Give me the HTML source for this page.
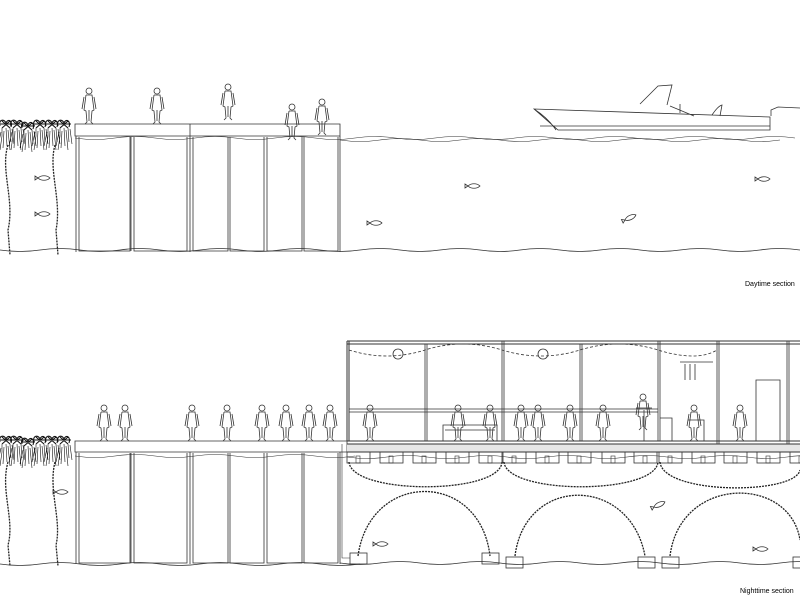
<!DOCTYPE html>
<html><head><meta charset="utf-8"><style>
html,body{margin:0;padding:0;background:#fff;}
svg{display:block}
text{font-family:"Liberation Sans",sans-serif;font-size:7px;fill:#000}
</style></head><body>
<svg width="800" height="600" viewBox="0 0 800 600" xmlns="http://www.w3.org/2000/svg" fill="none" stroke="#333" stroke-width="0.8">
<defs>
<g id="p"><circle cx="0" cy="-33" r="3"/><path d="M-3,-29 L3,-29 L5,-14 L3,-13 L2,-2 L4,0 M-3,-29 L-5,-14 L-3,-13 L-2,-2 L-4,0 M0,-14 L0,-3 M-5,-27 L-7,-15 M5,-27 L7,-15"/></g>
<g id="fish"><path d="M0,0 C3,-3 9,-3 12,0 C9,3 3,3 0,0 Z M0,0 L-3,-2 L-3,2 Z"/></g>
<g id="mang" stroke="#111"><path d="M-2,-2 C-4,-8 2,-10 4,-5 C6,-10 11,-7 9,-1 M-3,-4 L11,-4 M0,-7 L8,0 M8,-7 L0,0" stroke-width="1.1"/><path d="M0,0 L0,8 L-2,22 M4,0 L5,18 M8,0 L9,14 M-1,4 L-4,18 M6,2 L8,22 M2,3 L1,20 M10,1 L12,16" stroke-width="0.6"/></g>
<g id="pon"><rect x="0" y="0" width="23" height="11"/><rect x="9" y="4" width="4" height="7" stroke-width="0.6"/></g>
</defs>

<!-- ===== DAYTIME ===== -->
<path d="M75,124 H340 V136 H75 Z"/>
<line x1="190" y1="124" x2="190" y2="136"/>
<path d="M76,136 V252 M79,137 V251 H130 V137 M131,137 V251 M134,137 V251 H187 V137 M190,136 V252 M193,137 V251 H228 V137 M230,137 V251 H264 V137 M267,137 V251 H302 V137 M304,137 V251 H338 V137 M340,136 V252"/>
<path d="M75,138 q20,3 40,0 t40,0 t40,0 t40,0 t40,0 t40,0 t40,0 t40,0 t40,0 t40,0 t40,0 t40,0 t40,0 t40,0 t40,0 t40,0 t40,0 t40,0" stroke-width="0.6"/>
<path d="M0,250 q20,3 40,0 t40,0 t40,0 t40,0 t40,0 t40,0 t40,0 t40,0 t40,0 t40,0 t40,0 t40,0 t40,0 t40,0 t40,0 t40,0 t40,0 t40,0 t40,0 t40,0"/>
<use href="#mang" x="2" y="128"/><use href="#mang" x="13" y="128"/><use href="#mang" x="24" y="130"/><use href="#mang" x="36" y="128"/><use href="#mang" x="48" y="128"/><use href="#mang" x="60" y="128"/>
<path d="M8,145 C0,170 15,200 8,230 L10,255 M55,145 C48,170 62,200 56,230 L58,255" stroke-dasharray="2,1" stroke-width="1.3" stroke="#222"/>
<use href="#fish" x="38" y="178"/><use href="#fish" x="38" y="214"/><use href="#fish" x="370" y="223"/><use href="#fish" x="468" y="186"/><use href="#fish" x="625" y="220" transform="rotate(-25 625 220)"/><use href="#fish" x="758" y="179"/>
<use href="#p" x="89" y="124"/><use href="#p" x="157" y="124"/><use href="#p" x="228" y="120"/><use href="#p" x="292" y="140"/><use href="#p" x="322" y="135"/>
<path d="M534,109 L770,117 L770,130 L558,130 Z M540,126 L770,126 M556,130 Q548,118 534,109 M640,104 L658,86 L672,85 L667,105 M670,106 L694,116 M680,104 V113 M712,115 Q718,106 722,105 L720,116 M771,116 V110 L778,107 L800,108"/>
<path d="M340,140 q20,3 40,0 t40,0 t40,0 t40,0 t40,0 t40,0 t40,0 t40,0 t40,0 t40,0 t40,0" stroke-width="0.6"/>
<text x="745" y="286" stroke="none">Daytime section</text>

<!-- ===== NIGHTTIME ===== -->
<path d="M75,441 H347 V452 H75 Z"/>
<path d="M76,452 V564 M79,453 V563 H130 V453 M131,453 V563 M134,453 V563 H187 V453 M190,452 V564 M193,453 V563 H228 V453 M230,453 V563 H264 V453 M267,453 V563 H302 V453 M304,453 V563 H338 V453 M340,452 V564"/>
<path d="M75,456 q20,3 40,0 t40,0 t40,0 t40,0 t40,0 t40,0 t40,0" stroke-width="0.6"/>
<use href="#mang" x="2" y="444"/><use href="#mang" x="13" y="444"/><use href="#mang" x="24" y="446"/><use href="#mang" x="36" y="444"/><use href="#mang" x="48" y="444"/><use href="#mang" x="60" y="444"/>
<path d="M8,462 C0,490 15,520 8,545 L10,566 M55,462 C48,490 62,520 56,545 L58,566" stroke-dasharray="2,1" stroke-width="1.3" stroke="#222"/>
<use href="#fish" x="56" y="492"/><use href="#fish" x="376" y="544"/><use href="#fish" x="654" y="507" transform="rotate(-25 654 507)"/><use href="#fish" x="756" y="549"/>
<path d="M347,341 H800 M347,344 H800 M347,341 V441 M349,341 V441" stroke-width="1"/>
<path d="M425,344 V441 M427,344 V441 M502,341 V441 M504,341 V441 M580,344 V441 M582,344 V441 M658,341 V441 M660,341 V441 M717,341 V452 M719,341 V452 M787,341 V452 M789,341 V452"/>
<path d="M349,409 H658 M349,412 H658"/>
<rect x="347" y="444" width="453" height="8" fill="#e6e6e6" stroke="none"/>
<path d="M347,441 H800 M347,444 H800 M347,452 H800" stroke-width="1"/>
<path d="M349,350 q38,12 76,0 t77,0 t78,0 t78,0 t59,0" stroke-dasharray="3,2"/>
<circle cx="398" cy="354" r="5"/><circle cx="543" cy="354" r="5"/>
<use href="#pon" x="347" y="452"/><use href="#pon" x="380" y="452"/><use href="#pon" x="413" y="452"/><use href="#pon" x="446" y="452"/><use href="#pon" x="479" y="452"/><use href="#pon" x="503" y="452"/><use href="#pon" x="536" y="452"/><use href="#pon" x="568" y="452"/><use href="#pon" x="602" y="452"/><use href="#pon" x="634" y="452"/><use href="#pon" x="659" y="452"/><use href="#pon" x="692" y="452"/><use href="#pon" x="724" y="452"/><use href="#pon" x="757" y="452"/><use href="#pon" x="790" y="452"/>
<path d="M347,457 q20,3 40,0 t40,0 t40,0 t40,0 t40,0 t40,0 t40,0 t40,0 t40,0 t40,0 t40,0 t40,0" stroke-width="0.6"/>
<path d="M349,462 C352,495 500,495 502,462 M504,462 C507,495 655,495 658,462 M660,462 C663,495 795,495 800,470" stroke-dasharray="2,1" stroke-width="1.3" stroke="#222"/>
<path d="M358,556 C370,470 480,470 490,556 M515,556 C525,475 630,475 645,556 M670,556 C680,475 790,475 800,540" stroke-dasharray="2,1" stroke-width="1.3" stroke="#222"/>
<path d="M342,444 V558 H350" stroke-width="0.6"/>
<rect x="350" y="553" width="17" height="11"/><rect x="482" y="553" width="17" height="11"/><rect x="506" y="557" width="17" height="11"/><rect x="638" y="557" width="17" height="11"/><rect x="662" y="557" width="17" height="11"/><rect x="793" y="557" width="17" height="11"/>
<path d="M340,563 q20,3 40,0 t40,0 t40,0 t40,0 t40,0 t40,0 t40,0 t40,0 t40,0 t40,0 t40,0 t40,0" stroke-width="0.8"/>
<path d="M0,564 q20,3 40,0 t40,0 t40,0 t40,0 t40,0 t40,0 t40,0 t40,0 t40,0" stroke-width="0.8"/>
<path d="M443,441 V425 H497 V441 M445,430 H495 M756,441 V380 H780 V441 M680,362 H713 M685,364 V380 M690,364 V380 M695,364 V380 M644,441 V410 M636,408 H652 M660,418 H672 V441 M688,420 H704 V441"/>
<use href="#p" x="104" y="441"/><use href="#p" x="125" y="441"/><use href="#p" x="192" y="441"/><use href="#p" x="227" y="441"/><use href="#p" x="262" y="441"/><use href="#p" x="286" y="441"/><use href="#p" x="309" y="441"/><use href="#p" x="330" y="441"/>
<use href="#p" x="370" y="441"/><use href="#p" x="458" y="441"/><use href="#p" x="490" y="441"/><use href="#p" x="521" y="441"/><use href="#p" x="538" y="441"/><use href="#p" x="570" y="441"/><use href="#p" x="603" y="441"/><use href="#p" x="643" y="430"/><use href="#p" x="694" y="441"/><use href="#p" x="740" y="441"/>
<text x="740" y="593" stroke="none">Nighttime section</text>
</svg>
</body></html>
